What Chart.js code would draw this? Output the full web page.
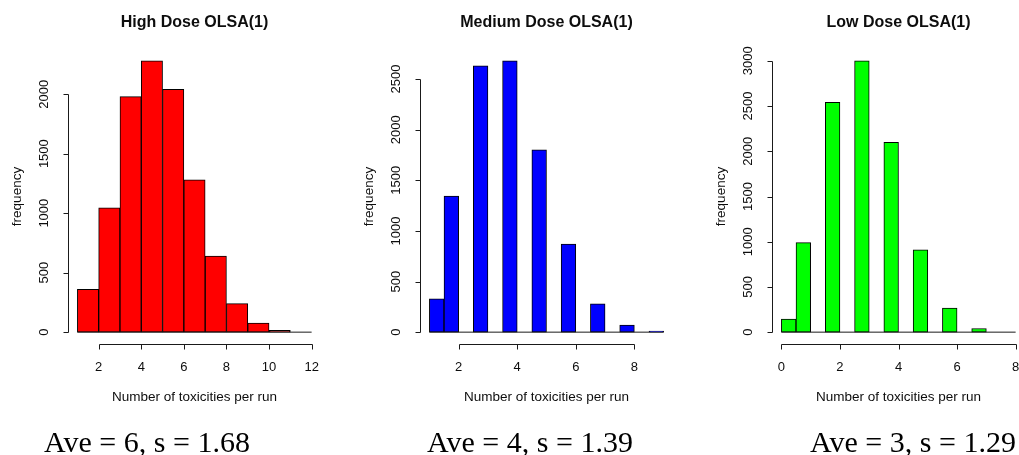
<!DOCTYPE html>
<html>
<head>
<meta charset="utf-8">
<script src="https://cdn.jsdelivr.net/npm/chart.js@4.4.1/dist/chart.umd.min.js"></script>
<style>
  html, body { margin: 0; padding: 0; background: #fff; overflow: hidden; }
  body { width: 1019px; height: 455px; position: relative; }
  .panel { position: absolute; top: 0; width: 352px; height: 455px; }
</style>
</head>
<body>
<div class="panel" style="left:0px"><canvas id="high-canvas" width="352" height="455"></canvas></div>
<div class="panel" style="left:352px"><canvas id="medium-canvas" width="352" height="455"></canvas></div>
<div class="panel" style="left:704px"><canvas id="low-canvas" width="352" height="455"></canvas></div>
<script>
// bin edges and counts
const highBreaks = [1, 2, 3, 4, 5, 6, 7, 8, 9, 10, 11, 12];
const highCounts = [360, 1045, 1980, 2280, 2040, 1280, 640, 240, 76, 15, 0];
const highXTicks = [2, 4, 6, 8, 10, 12];
const highYTicks = [0, 500, 1000, 1500, 2000];

const mediumBreaks = [1, 1.5, 2, 2.5, 3, 3.5, 4, 4.5, 5, 5.5, 6, 6.5, 7, 7.5, 8, 8.5, 9];
const mediumCounts = [330, 1345, 0, 2630, 0, 2680, 0, 1800, 0, 870, 0, 280, 0, 70, 0, 10];
const mediumXTicks = [2, 4, 6, 8];
const mediumYTicks = [0, 500, 1000, 1500, 2000, 2500];

const lowBreaks = [0, 0.5, 1, 1.5, 2, 2.5, 3, 3.5, 4, 4.5, 5, 5.5, 6, 6.5, 7, 7.5, 8];
const lowCounts = [145, 990, 0, 2540, 0, 3000, 0, 2100, 0, 910, 0, 265, 0, 40, 0, 0];
const lowXTicks = [0, 2, 4, 6, 8];
const lowYTicks = [0, 500, 1000, 1500, 2000, 2500, 3000];

const titles = ["High Dose OLSA(1)", "Medium Dose OLSA(1)", "Low Dose OLSA(1)"];
const notes = ["Ave = 6, s = 1.68", "Ave = 4, s = 1.39", "Ave = 3, s = 1.29"];
const xTitle = "Number of toxicities per run";
const yTitle = "frequency";

const SANS = "'Liberation Sans', Arial, sans-serif";

// R style axes: lines only span first..last tick, labels parallel to axis
const rAxes = {
  id: "rAxes",
  afterDraw(chart, args, opts) {
    const { ctx, chartArea } = chart;
    const x = chart.scales.x;
    const y = chart.scales.y;
    const midX = (chartArea.left + chartArea.right) / 2;
    const midY = (chartArea.top + chartArea.bottom) / 2;
    const crisp = (v) => Math.round(v) + 0.5;

    ctx.save();
    ctx.strokeStyle = "#1a1a1a";
    ctx.fillStyle = "#0d0d0d";
    ctx.lineWidth = 1;

    // x axis
    const ay = Math.round(chartArea.bottom) + 1.5;
    const xt = opts.xTicks;
    ctx.beginPath();
    ctx.moveTo(crisp(x.getPixelForValue(xt[0])), ay);
    ctx.lineTo(crisp(x.getPixelForValue(xt[xt.length - 1])), ay);
    xt.forEach((v) => {
      const px = crisp(x.getPixelForValue(v));
      ctx.moveTo(px, ay);
      ctx.lineTo(px, ay + 5);
    });
    ctx.stroke();
    ctx.font = "13px " + SANS;
    ctx.textAlign = "center";
    ctx.textBaseline = "alphabetic";
    xt.forEach((v) => ctx.fillText(String(v), x.getPixelForValue(v), 371));

    // y axis
    const ax = crisp(chartArea.left);
    const yt = opts.yTicks;
    ctx.beginPath();
    ctx.moveTo(ax, crisp(y.getPixelForValue(yt[0])));
    ctx.lineTo(ax, crisp(y.getPixelForValue(yt[yt.length - 1])));
    yt.forEach((v) => {
      const py = crisp(y.getPixelForValue(v));
      ctx.moveTo(ax, py);
      ctx.lineTo(ax - 5, py);
    });
    ctx.stroke();
    ctx.textBaseline = "middle";
    yt.forEach((v) => {
      ctx.save();
      ctx.translate(ax - 24, y.getPixelForValue(v));
      ctx.rotate(-Math.PI / 2);
      ctx.fillText(String(v), 0, 0);
      ctx.restore();
    });

    // axis titles
    ctx.font = "13.5px " + SANS;
    ctx.textBaseline = "alphabetic";
    ctx.fillText(xTitle, midX, 401);
    ctx.save();
    ctx.translate(ax - 51, midY);
    ctx.rotate(-Math.PI / 2);
    ctx.textBaseline = "middle";
    ctx.fillText(yTitle, 0, 0);
    ctx.restore();

    // main title
    ctx.font = "bold 16px " + SANS;
    ctx.textBaseline = "alphabetic";
    ctx.fillText(opts.title, midX, 26.5);

    // caption under the plot
    ctx.fillStyle = "#000";
    ctx.font = "30px 'Liberation Serif', 'Times New Roman', serif";
    ctx.fillText(opts.note, opts.noteX, 452);
    ctx.restore();
  },
};

function makeHist(canvasId, breaks, counts, color, xTicks, yTicks, title, note, noteX) {
  const ctx = document.getElementById(canvasId).getContext("2d");
  const lo = breaks[0];
  const hi = breaks[breaks.length - 1];
  const top = Math.max(...counts);

  const bars = counts.map((c, i) => ({ x: (breaks[i] + breaks[i + 1]) / 2, y: c }));

  return new Chart(ctx, {
    type: "bar",
    data: {
      datasets: [
        {
          // zero-height bins show as a flat line in R
          type: "line",
          data: [{ x: lo, y: 0 }, { x: hi, y: 0 }],
          borderColor: "#1a1a1a",
          borderWidth: 1,
          pointRadius: 0,
        },
        {
          data: bars,
          backgroundColor: color,
          borderColor: "#000",
          borderWidth: 1,
          borderSkipped: false,
          barPercentage: 1,
          categoryPercentage: 1,
        },
      ],
    },
    plugins: [rAxes],
    options: {
      responsive: false,
      animation: false,
      layout: { padding: { left: 68, right: 31, top: 50, bottom: 112 } },
      plugins: {
        legend: { display: false },
        tooltip: { enabled: false },
        rAxes: { xTicks, yTicks, title, note, noteX },
      },
      scales: {
        x: {
          type: "linear",
          display: false,
          offset: false,
          min: lo - 0.04 * (hi - lo),
          max: hi + 0.04 * (hi - lo),
          ticks: { stepSize: 2, includeBounds: false },
        },
        y: {
          display: false,
          min: -0.04 * top,
          max: 1.04 * top,
        },
      },
    },
  });
}

makeHist("high-canvas", highBreaks, highCounts, "#ff0000", highXTicks, highYTicks, titles[0], notes[0], 147);
makeHist("medium-canvas", mediumBreaks, mediumCounts, "#0000ff", mediumXTicks, mediumYTicks, titles[1], notes[1], 178);
makeHist("low-canvas", lowBreaks, lowCounts, "#00ff00", lowXTicks, lowYTicks, titles[2], notes[2], 209);
</script>
</body>
</html>
